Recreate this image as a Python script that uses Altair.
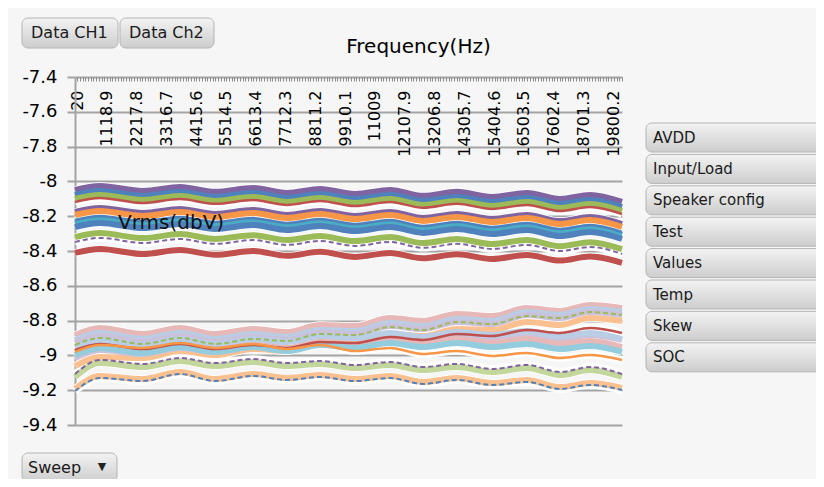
import altair as alt
import pandas as pd

# ---------------- data ----------------
freqs = [20, 940, 2530, 3890, 5190, 6590, 7840, 9060, 10350, 11640, 12860,
         14110, 15400, 16690, 17910, 19020, 20200]

x_tick_labels = [20, 1118.9, 2217.8, 3316.7, 4415.6, 5514.5, 6613.4, 7712.3,
                 8811.2, 9910.1, 11009, 12107.9, 13206.8, 14305.7, 15404.6,
                 16503.5, 17602.4, 18701.3, 19800.2]
y_tick_values = [-7.4, -7.6, -7.8, -8.0, -8.2, -8.4, -8.6, -8.8, -9.0, -9.2, -9.4]

ch_01 = [-8.049, -8.026, -8.055, -8.032, -8.060, -8.038, -8.066, -8.043, -8.072, -8.049, -8.083, -8.060, -8.089, -8.066, -8.101, -8.078, -8.118]
ch_02 = [-8.078, -8.055, -8.084, -8.061, -8.089, -8.067, -8.095, -8.072, -8.101, -8.078, -8.112, -8.089, -8.118, -8.095, -8.130, -8.107, -8.147]
ch_03 = [-8.101, -8.078, -8.107, -8.084, -8.112, -8.090, -8.118, -8.095, -8.124, -8.101, -8.135, -8.112, -8.141, -8.118, -8.153, -8.130, -8.170]
ch_04 = [-8.118, -8.095, -8.124, -8.101, -8.129, -8.107, -8.135, -8.112, -8.141, -8.118, -8.152, -8.129, -8.158, -8.135, -8.170, -8.147, -8.187]
ch_05 = [-8.176, -8.153, -8.182, -8.159, -8.187, -8.165, -8.193, -8.170, -8.199, -8.176, -8.210, -8.187, -8.216, -8.193, -8.228, -8.205, -8.245]
ch_06 = [-8.193, -8.170, -8.199, -8.176, -8.204, -8.182, -8.210, -8.187, -8.216, -8.193, -8.227, -8.204, -8.233, -8.210, -8.245, -8.222, -8.262]
ch_07 = [-8.222, -8.199, -8.228, -8.205, -8.233, -8.211, -8.239, -8.216, -8.245, -8.222, -8.256, -8.233, -8.262, -8.239, -8.274, -8.251, -8.291]
ch_08 = [-8.239, -8.216, -8.245, -8.222, -8.250, -8.228, -8.256, -8.233, -8.262, -8.239, -8.273, -8.250, -8.279, -8.256, -8.291, -8.268, -8.308]
ch_09 = [-8.262, -8.239, -8.268, -8.245, -8.273, -8.251, -8.279, -8.256, -8.285, -8.262, -8.296, -8.273, -8.302, -8.279, -8.314, -8.291, -8.331]
ch_10 = [-8.320, -8.297, -8.326, -8.303, -8.331, -8.309, -8.337, -8.314, -8.343, -8.320, -8.354, -8.331, -8.360, -8.337, -8.372, -8.349, -8.389]
ch_11 = [-8.348, -8.325, -8.354, -8.331, -8.359, -8.337, -8.365, -8.342, -8.371, -8.348, -8.382, -8.359, -8.388, -8.365, -8.400, -8.377, -8.417]
ch_12 = [-8.411, -8.388, -8.417, -8.394, -8.422, -8.400, -8.428, -8.405, -8.434, -8.411, -8.442, -8.419, -8.446, -8.423, -8.455, -8.432, -8.468]

cb_01 = [-8.883, -8.843, -8.877, -8.843, -8.877, -8.848, -8.866, -8.825, -8.831, -8.785, -8.802, -8.762, -8.774, -8.728, -8.745, -8.710, -8.728]
cb_02 = [-8.911, -8.871, -8.906, -8.871, -8.906, -8.877, -8.894, -8.854, -8.860, -8.814, -8.831, -8.791, -8.802, -8.751, -8.768, -8.733, -8.751]
cb_03 = [-8.929, -8.889, -8.923, -8.889, -8.923, -8.894, -8.911, -8.871, -8.877, -8.831, -8.848, -8.808, -8.820, -8.768, -8.785, -8.751, -8.768]
cb_04 = [-8.940, -8.900, -8.934, -8.900, -8.934, -8.906, -8.917, -8.877, -8.883, -8.837, -8.854, -8.808, -8.820, -8.774, -8.785, -8.751, -8.768]
cb_05 = [-9.061, -9.009, -9.015, -8.975, -8.998, -8.963, -8.975, -8.923, -8.923, -8.877, -8.889, -8.848, -8.854, -8.808, -8.825, -8.785, -8.802]
cb_06 = [-8.969, -8.934, -8.963, -8.934, -8.963, -8.940, -8.957, -8.923, -8.929, -8.894, -8.911, -8.877, -8.889, -8.854, -8.871, -8.843, -8.871]
cb_07 = [-9.015, -8.969, -8.992, -8.957, -8.980, -8.952, -8.969, -8.934, -8.940, -8.906, -8.929, -8.894, -8.911, -8.883, -8.906, -8.883, -8.911]
cb_08 = [-8.980, -8.940, -8.969, -8.934, -8.963, -8.934, -8.957, -8.923, -8.940, -8.911, -8.934, -8.906, -8.929, -8.906, -8.934, -8.917, -8.952]
cb_09 = [-8.998, -8.957, -8.986, -8.952, -8.980, -8.952, -8.975, -8.940, -8.957, -8.929, -8.952, -8.929, -8.952, -8.934, -8.963, -8.946, -8.980]
cb_10 = [-8.980, -8.940, -8.957, -8.929, -8.957, -8.934, -8.963, -8.940, -8.975, -8.957, -8.992, -8.975, -9.003, -8.986, -9.015, -8.998, -9.026]
cb_11 = [-8.952, -8.911, -8.940, -8.906, -8.934, -8.906, -8.923, -8.889, -8.900, -8.871, -8.894, -8.866, -8.883, -8.860, -8.889, -8.871, -8.906]
cb_12 = [-9.124, -9.044, -9.067, -9.032, -9.061, -9.038, -9.061, -9.049, -9.072, -9.055, -9.084, -9.067, -9.095, -9.072, -9.113, -9.084, -9.124]
cb_13 = [-9.107, -9.026, -9.049, -9.015, -9.044, -9.021, -9.044, -9.032, -9.055, -9.038, -9.067, -9.049, -9.078, -9.055, -9.095, -9.067, -9.107]
cb_14 = [-9.193, -9.118, -9.136, -9.095, -9.136, -9.107, -9.130, -9.113, -9.136, -9.118, -9.153, -9.130, -9.159, -9.141, -9.182, -9.159, -9.187]
cb_15 = [-9.205, -9.130, -9.147, -9.107, -9.147, -9.118, -9.141, -9.124, -9.147, -9.130, -9.164, -9.141, -9.170, -9.153, -9.193, -9.170, -9.199]

all_series = {
    "CH1 01": ch_01, "CH1 02": ch_02, "CH1 03": ch_03, "CH1 04": ch_04,
    "CH1 05": ch_05, "CH1 06": ch_06, "CH1 07": ch_07, "CH1 08": ch_08,
    "CH1 09": ch_09, "CH1 10": ch_10, "CH1 11": ch_11, "CH1 12": ch_12,
    "CH2 01": cb_01, "CH2 02": cb_02, "CH2 03": cb_03, "CH2 04": cb_04,
    "CH2 05": cb_05, "CH2 06": cb_06, "CH2 07": cb_07, "CH2 08": cb_08,
    "CH2 09": cb_09, "CH2 10": cb_10, "CH2 11": cb_11, "CH2 12": cb_12,
    "CH2 13": cb_13, "CH2 14": cb_14, "CH2 15": cb_15,
}

legend_buttons = ["AVDD", "Input/Load", "Speaker config", "Test", "Values",
                  "Temp", "Skew", "SOC"]

# ---------------- styles ----------------
series_colors = {
    "CH1 01": "#8064A2", "CH1 02": "#4F81BD", "CH1 03": "#9BBB59", "CH1 04": "#C0504D",
    "CH1 05": "#8064A2", "CH1 06": "#F79646", "CH1 07": "#4F81BD", "CH1 08": "#4BACC6",
    "CH1 09": "#4F81BD", "CH1 10": "#9BBB59", "CH1 11": "#8064A2", "CH1 12": "#C0504D",
    "CH2 01": "#E6B9B8", "CH2 02": "#B9CDE5", "CH2 03": "#CCC1DA", "CH2 04": "#9BBB59",
    "CH2 05": "#FAC090", "CH2 06": "#C0504D", "CH2 07": "#CCC1DA", "CH2 08": "#E6B9B8",
    "CH2 09": "#93CDDD", "CH2 10": "#F79646", "CH2 11": "#B9CDE5", "CH2 12": "#C3D69B",
    "CH2 13": "#8064A2", "CH2 14": "#FAC090", "CH2 15": "#4F81BD",
}
thin_solid = ["CH1 04", "CH1 07", "CH2 06", "CH2 10"]
thin_dashed = ["CH1 11", "CH2 04", "CH2 13", "CH2 15"]
thick = [n for n in all_series if n not in thin_solid and n not in thin_dashed]

BG = "#f6f6f6"
GRID = "#a3a3a3"
FONT = "DejaVu Sans"
W, H = 547, 348

rows = [{"series": n, "freq": f, "vrms": v}
        for n, vals in all_series.items() for f, v in zip(freqs, vals)]
df = pd.DataFrame(rows)
names = list(all_series)
color_scale = alt.Scale(domain=names, range=[series_colors[n] for n in names])

x_scale = alt.Scale(domain=[20, 20200], nice=False, zero=False)
y_scale = alt.Scale(domain=[-9.4, -7.4], nice=False, zero=False)

y_axis = alt.Axis(values=y_tick_values,
                  labelExpr="'-' + format(-datum.value, '.2~f')",
                  grid=True, gridColor=GRID, gridWidth=2,
                  domain=True, domainColor=GRID, domainWidth=2,
                  ticks=True, tickColor=GRID, tickWidth=2, tickSize=8,
                  labelPadding=10, labelFont=FONT, labelFontSize=18,
                  labelColor="#000000", title=None)

label_axis = alt.Axis(orient="bottom", offset=-H, values=x_tick_labels,
                      format=".1~f", labelAngle=270, ticks=False, domain=False,
                      grid=False, labelPadding=13, labelOffset=2,
                      labelFont=FONT, labelFontSize=16, labelColor="#000000",
                      labelOverlap=False, labelFlush=False,
                      title="Frequency(Hz)", titleX=343, titleY=-25,
                      titleFont=FONT, titleFontSize=20, titleFontWeight="normal",
                      titleColor="#000000", titleAlign="center",
                      titleBaseline="alphabetic", titleAngle=0)

tick_axis = alt.Axis(orient="bottom", offset=-H, tickCount=200, labels=False,
                     domain=False, grid=False, ticks=True, tickSize=4,
                     tickColor="#8a8a8a", tickWidth=1, title=None)

y_enc = alt.Y("vrms:Q", scale=y_scale, axis=y_axis)

halo = alt.Chart(df).mark_line(color="white", strokeWidth=7.5,
                               interpolate="monotone").encode(
    x=alt.X("freq:Q", scale=x_scale, axis=tick_axis),
    y=y_enc, detail="series:N")

thick_layer = alt.Chart(df).transform_filter(
    alt.FieldOneOfPredicate(field="series", oneOf=thick)
).mark_line(strokeWidth=6, interpolate="monotone").encode(
    x=alt.X("freq:Q", scale=x_scale, axis=label_axis),
    y=y_enc, color=alt.Color("series:N", scale=color_scale, legend=None))

thin_layer = alt.Chart(df).transform_filter(
    alt.FieldOneOfPredicate(field="series", oneOf=thin_solid)
).mark_line(strokeWidth=2.5, interpolate="monotone").encode(
    x=alt.X("freq:Q", scale=x_scale, axis=None),
    y=y_enc, color=alt.Color("series:N", scale=color_scale, legend=None))

dash_layer = alt.Chart(df).transform_filter(
    alt.FieldOneOfPredicate(field="series", oneOf=thin_dashed)
).mark_line(strokeWidth=2, strokeDash=[5, 3], interpolate="monotone").encode(
    x=alt.X("freq:Q", scale=x_scale, axis=None),
    y=y_enc, color=alt.Color("series:N", scale=color_scale, legend=None))

btn_fill = alt.LinearGradient(
    gradient="linear", x1=0, y1=0, x2=0, y2=1,
    stops=[alt.GradientStop(offset=0, color="#f3f3f3"),
           alt.GradientStop(offset=1, color="#cdcdcd")])


def button(label, x0, x1, y0, y1, tx, size):
    d = alt.Data(values=[{"label": label}])
    r = alt.Chart(d).mark_rect(fill=btn_fill, stroke="#b4b4b4", strokeWidth=1,
                               cornerRadius=6).encode(
        x=alt.value(x0), x2=alt.value(x1), y=alt.value(y0), y2=alt.value(y1))
    t = alt.Chart(d).mark_text(align="left", baseline="middle", font=FONT,
                               fontSize=size, color="#1a1a1a").encode(
        x=alt.value(tx), y=alt.value((y0 + y1) / 2), text="label:N")
    return [r, t]


extras = []
extras += button("Data CH1", -53, 43, -59, -29, -44, 16)
extras += button("Data Ch2", 45, 139, -59, -29, 54, 16)
extras += button("Sweep", -53, 42, 376, 405, -47, 16)
arrow = alt.Chart(alt.Data(values=[{"label": "▼"}])).mark_text(
    align="center", baseline="middle", font=FONT, fontSize=11,
    color="#222222").encode(x=alt.value(27), y=alt.value(390), text="label:N")
extras.append(arrow)
for i, lab in enumerate(legend_buttons):
    y0 = 46 + i * 31.4
    extras += button(lab, 571, 748, y0, y0 + 29, 578, 15)

vrms_title = alt.Chart(alt.Data(values=[{"label": "Vrms(dbV)"}])).mark_text(
    align="left", baseline="middle", font=FONT, fontSize=20,
    color="#111111").encode(x=alt.value(43), y=alt.value(146), text="label:N")

chart = alt.layer(halo, thick_layer, thin_layer, dash_layer, vrms_title,
                  *extras).resolve_axis(x="independent").properties(
    width=W, height=H, background=BG,
    padding={"left": 67, "top": 69, "right": 194, "bottom": 54},
    autosize=alt.AutoSizeParams(type="none"),
).configure_view(stroke=None)

chart.save("out.html", embed_options={"renderer": "svg", "actions": False})
